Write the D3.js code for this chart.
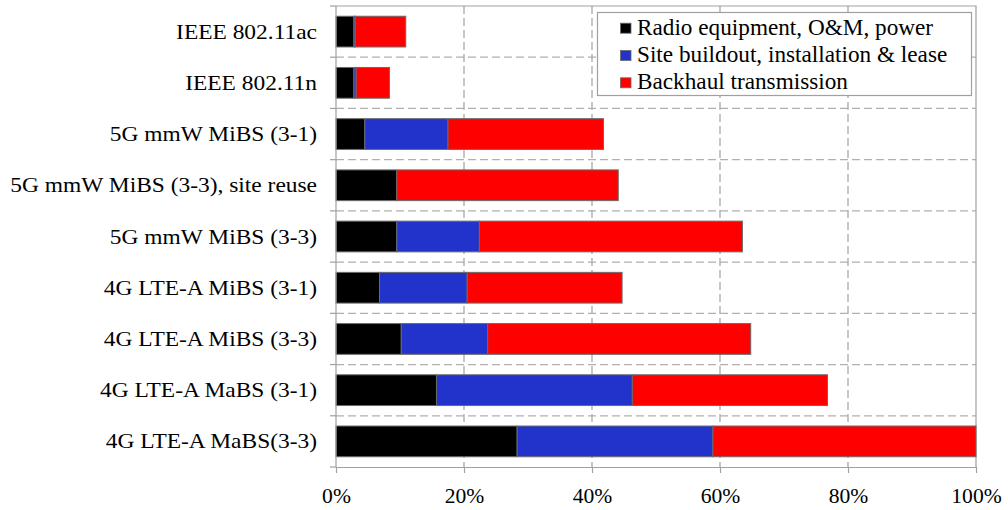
<!DOCTYPE html>
<html><head><meta charset="utf-8">
<script src="https://cdn.jsdelivr.net/npm/d3@7"></script>
<style>body{margin:0;background:#fff}svg{display:block}text{font-family:"Liberation Serif","Times New Roman",serif;fill:#000}</style>
</head><body><svg id="c" width="1008" height="510"></svg>
<script>
const categories = ["IEEE 802.11ac","IEEE 802.11n","5G mmW MiBS (3-1)","5G mmW MiBS (3-3), site reuse","5G mmW MiBS (3-3)","4G LTE-A MiBS (3-1)","4G LTE-A MiBS (3-3)","4G LTE-A MaBS (3-1)","4G LTE-A MaBS(3-3)"];
const seriesNames = ["Radio equipment, O&M, power","Site buildout, installation & lease","Backhaul transmission"];
const radio    = [2.8, 2.8, 4.5, 9.5, 9.5, 6.8, 10.2, 15.7, 28.3];
const site     = [0.2, 0.35, 13.0, 0, 12.9, 13.7, 13.5, 30.6, 30.6];
const backhaul = [7.9, 5.2, 24.3, 34.6, 41.1, 24.2, 41.1, 30.5, 41.1];
const xTicks = [0, 20, 40, 60, 80, 100];
const colors = ["#000000", "#2233cc", "#ff0000"];

const svg = d3.select("#c");
const L = 336, R = 976, T = 6, B = 467;
const x = d3.scaleLinear().domain([0, 100]).range([L, R]);
const y = d3.scaleBand().domain(categories).range([T, B]).paddingInner(0.4).paddingOuter(0.2);
const step = y.step();

// grid
const g = svg.append("g");
g.selectAll(".vg").data(xTicks.filter(t => t > 0 && t < 100)).join("line")
  .attr("x1", d => x(d)).attr("x2", d => x(d)).attr("y1", T).attr("y2", B)
  .attr("stroke", "#a0a0a0").attr("stroke-width", 1.2).attr("stroke-dasharray", "8,4");
g.selectAll(".hg").data(categories.slice(1)).join("line")
  .attr("x1", L).attr("x2", R)
  .attr("y1", d => y(d) - step * 0.2).attr("y2", d => y(d) - step * 0.2)
  .attr("stroke", "#b0b0b0").attr("stroke-width", 1.2).attr("stroke-dasharray", "8,4");
svg.append("path").attr("d", `M${L},${T}H${R}V${B}`).attr("fill", "none").attr("stroke", "#a0a0a0").attr("stroke-width", 1.2);

// bars
const rows = categories.map((c, i) => ({cat: c, v: [radio[i], site[i], backhaul[i]]}));
const stack = d3.stack().keys([0, 1, 2]).value((d, k) => d.v[k])(rows);
svg.append("g").selectAll("g").data(stack).join("g")
  .attr("fill", (d, i) => colors[i])
  .selectAll("rect").data(d => d.filter(s => s[1] - s[0] > 0)).join("rect")
  .attr("x", d => x(d[0])).attr("width", d => x(d[1]) - x(d[0]))
  .attr("y", d => y(d.data.cat)).attr("height", y.bandwidth())
  .attr("stroke", "#6a6a6a").attr("stroke-width", 1);

// axes
const xa = svg.append("g").attr("transform", `translate(0,${B})`)
  .call(d3.axisBottom(x).tickValues(xTicks).tickFormat(d => d + "%").tickSize(6).tickSizeOuter(0));
xa.select(".domain").attr("stroke", "#a0a0a0").attr("stroke-width", 1.2);
xa.selectAll(".tick line").attr("stroke", "#a0a0a0").attr("stroke-width", 1.2);
xa.selectAll("text").attr("font-size", 20).attr("font-family", "Liberation Serif")
  .attr("y", 0).attr("dy", 0).attr("transform", "translate(0,36) scale(1.08,1)");

const ya = svg.append("g").attr("transform", `translate(${L},0)`)
  .call(d3.axisLeft(y).tickSize(0));
ya.select(".domain").attr("stroke", "#a0a0a0").attr("stroke-width", 1.2).attr("d", `M0,${T}V${B}`);
ya.selectAll("text").attr("font-size", 22).attr("font-family", "Liberation Serif")
  .attr("x", 0).attr("dy", "0.32em").attr("transform", "translate(-19,0) scale(1.065,1)");
svg.append("g").selectAll("line").data(d3.range(categories.length + 1)).join("line")
  .attr("x1", L - 6).attr("x2", L).attr("y1", i => T + i * step).attr("y2", i => T + i * step)
  .attr("stroke", "#a0a0a0").attr("stroke-width", 1.2);

// legend
const lg = svg.append("g");
lg.append("rect").attr("x", 597.5).attr("y", 12.5).attr("width", 374).attr("height", 83)
  .attr("fill", "#fff").attr("stroke", "#a0a0a0").attr("stroke-width", 1.2);
seriesNames.forEach((n, i) => {
  const base = 34.7 + i * 27.3;
  lg.append("rect").attr("x", 620.5).attr("y", base - 11.5).attr("width", 10.5).attr("height", 10)
    .attr("fill", colors[i]).attr("stroke", "#6a6a6a").attr("stroke-width", 0.8);
  lg.append("text").attr("x", 0).attr("y", 0).attr("font-size", 23)
    .attr("transform", `translate(637,${base}) scale(1.01,1)`).text(n);
});
</script></body></html>
